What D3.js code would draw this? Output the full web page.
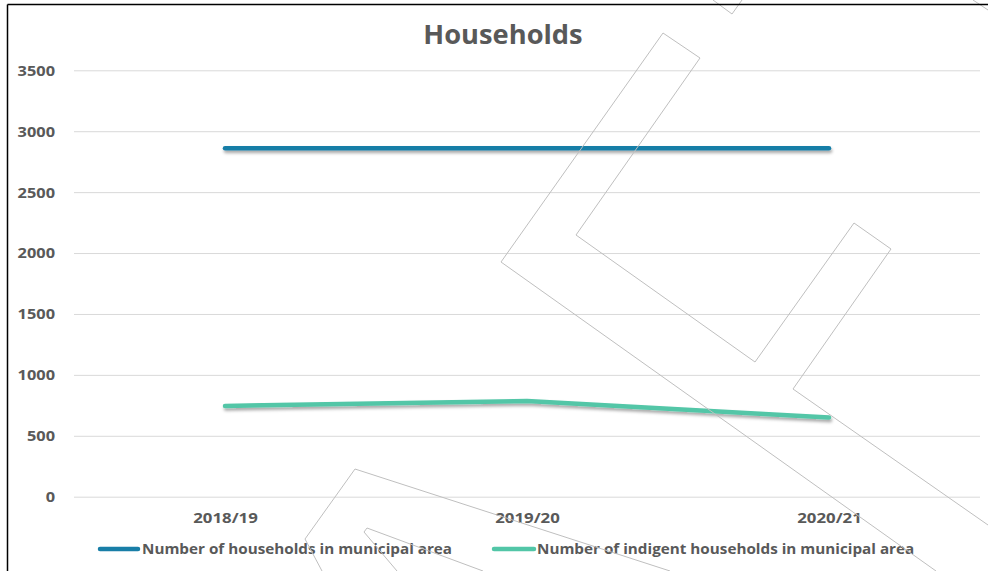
<!DOCTYPE html>
<html>
<head>
<meta charset="utf-8">
<script src="https://cdn.jsdelivr.net/npm/d3@7"></script>
<style>
  html, body { margin: 0; padding: 0; background: #fff; }
  svg { display: block; }
  text { font-family: "Open Sans", "DejaVu Sans", sans-serif; }
</style>
</head>
<body>
<svg id="chart" width="988" height="571"></svg>
<script>
// ---- data ----
const categories = ["2018/19", "2019/20", "2020/21"];
const households = [2860, 2860, 2860];
const indigentHouseholds = [745, 785, 650];
const yTicks = [0, 500, 1000, 1500, 2000, 2500, 3000, 3500];
const seriesNames = ["Number of households in municipal area", "Number of indigent households in municipal area"];
const seriesColors = ["#187EA7", "#52C6A7"];

// decorative watermark outline (not data)
const watermark = [
  [[988,525],[793,389],[891,249],[854,223],[755,362],[576,235],[700,58],[663,33],[501,262],[936,571]],
  [[713,0],[732,14],[742,0]],
  [[973,0],[988,10]],
  [[670,571],[355,469],[305,539],[322,571]],
  [[483,571],[367,528],[364,532],[397,571]]
];

const W = 988, H = 571;
const margin = { left: 74, right: 8, top: 70, bottom: 74 };
const svg = d3.select("#chart");

const defs = svg.append("defs");
const f = defs.append("filter").attr("id", "shadow").attr("filterUnits", "userSpaceOnUse")
  .attr("x", 0).attr("y", 0).attr("width", W).attr("height", H);
f.append("feDropShadow").attr("dx", 1).attr("dy", 2.5).attr("stdDeviation", 1.6)
  .attr("flood-color", "#000").attr("flood-opacity", 0.35);

function stretch(sel, sx) {
  sel.attr("transform", function () {
    const x0 = +this.getAttribute("x") || 0;
    return `translate(${x0 * (1 - sx)},0) scale(${sx},1)`;
  });
}

const x = d3.scalePoint().domain(categories).range([margin.left, W - margin.right]).padding(0.5);
const y = d3.scaleLinear().domain([0, 3500]).range([496.7, 70.3]);

// gridlines + y labels
const yAxis = d3.axisLeft(y).tickValues(yTicks).tickSize(-(W - margin.right - margin.left)).tickPadding(19).tickFormat(d3.format("d"));
const gy = svg.append("g").attr("transform", `translate(${margin.left},0)`).call(yAxis);
gy.select(".domain").remove();
gy.selectAll(".tick line").attr("stroke", "#d9d9d9").attr("stroke-width", 1);
gy.selectAll(".tick text").attr("fill", "#595959").attr("font-size", 14).attr("font-weight", "bold").attr("dy", "0.35em").call(stretch, 1.17);

// x labels
const xAxis = d3.axisBottom(x).tickSize(0).tickPadding(16);
const gx = svg.append("g").attr("transform", `translate(0,${y(0)})`).call(xAxis);
gx.select(".domain").remove();
gx.selectAll(".tick text").attr("fill", "#595959").attr("font-size", 14).attr("font-weight", "bold").call(stretch, 1.2);

// lines
const line = d3.line().x((d, i) => x(categories[i])).y(d => y(d));
[households, indigentHouseholds].forEach((s, k) => {
  svg.append("path").datum(s)
    .attr("d", line)
    .attr("fill", "none")
    .attr("stroke", seriesColors[k])
    .attr("stroke-width", 4.5)
    .attr("stroke-linecap", "round")
    .attr("stroke-linejoin", "round")
    .attr("filter", "url(#shadow)");
});

// title
svg.append("text").attr("x", 503).attr("y", 44).attr("text-anchor", "middle")
  .attr("font-size", 26).attr("font-weight", "bold").attr("fill", "#595959").text("Households").call(stretch, 1.05);

// legend
const legendItems = [{ x0: 100, x1: 138, tx: 142 }, { x0: 494, x1: 534, tx: 537 }];
legendItems.forEach((it, k) => {
  svg.append("line").attr("x1", it.x0).attr("x2", it.x1).attr("y1", 549).attr("y2", 549)
    .attr("stroke", seriesColors[k]).attr("stroke-width", 4.5).attr("stroke-linecap", "round");
  svg.append("text").attr("x", it.tx).attr("y", 549).attr("dy", "0.35em")
    .attr("font-size", 14).attr("font-weight", "bold").attr("fill", "#595959").text(seriesNames[k]).call(stretch, 1.09);
});

// watermark
const wm = d3.line();
svg.append("g").selectAll("path").data(watermark).join("path")
  .attr("d", d => wm(d)).attr("fill", "none").attr("stroke", "#bfbfbf").attr("stroke-width", 1);

// frame
svg.append("line").attr("x1", 7.5).attr("x2", 7.5).attr("y1", 4.5).attr("y2", H).attr("stroke", "#000").attr("stroke-width", 1.5);
svg.append("line").attr("x1", 7.5).attr("x2", W).attr("y1", 4.5).attr("y2", 4.5).attr("stroke", "#000").attr("stroke-width", 1.5);
</script>
</body>
</html>
